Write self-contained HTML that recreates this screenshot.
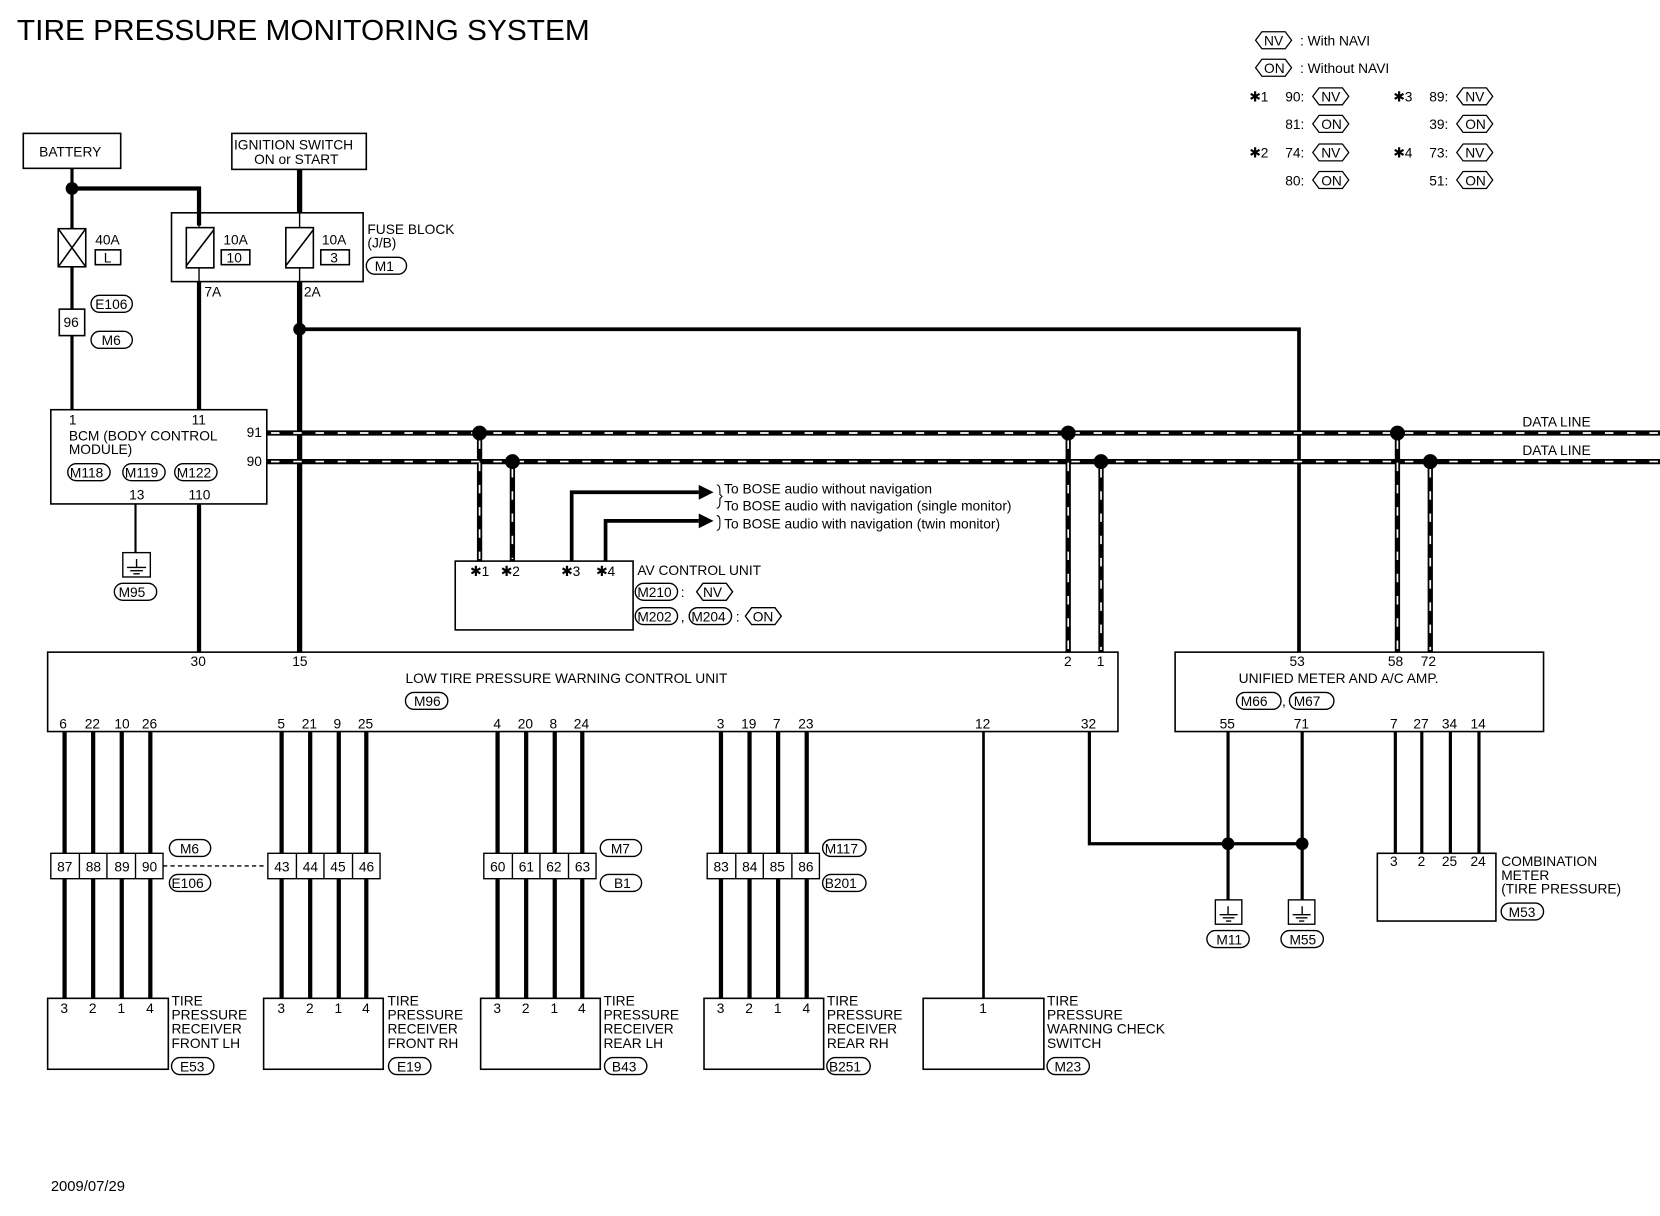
<!DOCTYPE html>
<html><head><meta charset="utf-8"><style>
html,body{margin:0;padding:0;background:#fff}
svg{display:block}
text{font-family:"Liberation Sans",sans-serif;fill:#000}
</style></head><body>
<svg width="1660" height="1216" viewBox="0 0 1568 1148.6" xmlns="http://www.w3.org/2000/svg">
<g font-size="13">
<text x="16" y="38" font-size="27" textLength="541" lengthAdjust="spacingAndGlyphs">TIRE PRESSURE MONITORING SYSTEM</text>

<!-- legend -->
<g stroke="#000" fill="none" stroke-width="1.2">
<path d="M1186,38 l6,-8 h22 l6,8 l-6,8 h-22z"/>
<path d="M1186,64 l6,-8 h22 l6,8 l-6,8 h-22z"/>
<path d="M1240,91 l6,-8 h22 l6,8 l-6,8 h-22z"/>
<path d="M1240,117 l6,-8 h22 l6,8 l-6,8 h-22z"/>
<path d="M1240,144 l6,-8 h22 l6,8 l-6,8 h-22z"/>
<path d="M1240,170 l6,-8 h22 l6,8 l-6,8 h-22z"/>
<path d="M1376,91 l6,-8 h22 l6,8 l-6,8 h-22z"/>
<path d="M1376,117 l6,-8 h22 l6,8 l-6,8 h-22z"/>
<path d="M1376,144 l6,-8 h22 l6,8 l-6,8 h-22z"/>
<path d="M1376,170 l6,-8 h22 l6,8 l-6,8 h-22z"/>
</g>
<text x="1194" y="43">NV</text><text x="1228" y="43">: With NAVI</text>
<text x="1194" y="69">ON</text><text x="1228" y="69">: Without NAVI</text>
<text x="1180" y="96">✱1</text><text x="1214" y="96">90:</text><text x="1248" y="96">NV</text>
<text x="1214" y="122">81:</text><text x="1248" y="122">ON</text>
<text x="1180" y="149">✱2</text><text x="1214" y="149">74:</text><text x="1248" y="149">NV</text>
<text x="1214" y="175">80:</text><text x="1248" y="175">ON</text>
<text x="1316" y="96">✱3</text><text x="1350" y="96">89:</text><text x="1384" y="96">NV</text>
<text x="1350" y="122">39:</text><text x="1384" y="122">ON</text>
<text x="1316" y="149">✱4</text><text x="1350" y="149">73:</text><text x="1384" y="149">NV</text>
<text x="1350" y="175">51:</text><text x="1384" y="175">ON</text>

<!-- top boxes -->
<g stroke="#000" fill="none" stroke-width="1.5">
<rect x="22" y="126" width="92" height="33"/>
<rect x="219" y="126" width="127" height="34"/>
<rect x="162" y="201" width="181" height="65"/>
<rect x="55" y="216" width="26" height="36"/>
<path d="M55,216 L81,252 M81,216 L55,252"/>
<rect x="90" y="236" width="24" height="14"/>
<rect x="176" y="215" width="26" height="38"/>
<path d="M176,251 L202,217"/>
<rect x="209" y="236" width="27" height="14"/>
<rect x="270" y="215" width="26" height="38"/>
<path d="M270,251 L296,217"/>
<rect x="303" y="236" width="27" height="14"/>
<rect x="56" y="292" width="24" height="25"/>
<rect x="48" y="387" width="204" height="89"/>
<rect x="430" y="530" width="168" height="65"/>
<rect x="45" y="616" width="1011" height="75"/>
<rect x="1110" y="616" width="348" height="75"/>
<rect x="1301" y="806" width="112" height="64"/>
<rect x="45" y="943" width="114" height="67"/>
<rect x="249" y="943" width="113" height="67"/>
<rect x="454" y="943" width="113" height="67"/>
<rect x="665" y="943" width="113" height="67"/>
<rect x="872" y="943" width="114" height="67"/>
</g>
<text x="37" y="148">BATTERY</text>
<text x="221" y="141">IGNITION SWITCH</text>
<text x="240" y="155">ON or START</text>
<text x="90" y="231">40A</text><text x="98" y="248">L</text>
<text x="211" y="231">10A</text><text x="214" y="248">10</text>
<text x="304" y="231">10A</text><text x="312" y="248">3</text>
<text x="347" y="221">FUSE BLOCK</text><text x="347" y="234">(J/B)</text>
<text x="193" y="280">7A</text><text x="287" y="280">2A</text>
<text x="60" y="309">96</text>

<!-- pills -->
<g stroke="#000" fill="none" stroke-width="1.3">
<rect x="346" y="243" width="38" height="16" rx="8"/>
<rect x="86" y="279" width="39" height="16" rx="8"/>
<rect x="86" y="313" width="39" height="16" rx="8"/>
<rect x="64" y="438" width="40" height="16" rx="8"/>
<rect x="116" y="438" width="40" height="16" rx="8"/>
<rect x="165" y="438" width="40" height="16" rx="8"/>
<rect x="108" y="551" width="40" height="16" rx="8"/>
<rect x="600" y="551" width="40" height="16" rx="8"/>
<rect x="600" y="574" width="40" height="16" rx="8"/>
<rect x="651" y="574" width="40" height="16" rx="8"/>
<rect x="383" y="654" width="40" height="16" rx="8"/>
<rect x="1168" y="654" width="42" height="16" rx="8"/>
<rect x="1218" y="654" width="42" height="16" rx="8"/>
<rect x="160" y="793" width="39" height="16" rx="8"/>
<rect x="160" y="826" width="39" height="16" rx="8"/>
<rect x="567" y="793" width="39" height="16" rx="8"/>
<rect x="567" y="826" width="39" height="16" rx="8"/>
<rect x="777" y="793" width="41" height="16" rx="8"/>
<rect x="777" y="826" width="41" height="16" rx="8"/>
<rect x="1140" y="879" width="40" height="16" rx="8"/>
<rect x="1210" y="879" width="40" height="16" rx="8"/>
<rect x="1418" y="853" width="40" height="16" rx="8"/>
<rect x="162" y="999" width="40" height="16" rx="8"/>
<rect x="367" y="999" width="40" height="16" rx="8"/>
<rect x="571" y="999" width="40" height="16" rx="8"/>
<rect x="781" y="999" width="41" height="16" rx="8"/>
<rect x="989" y="999" width="40" height="16" rx="8"/>
<path d="M658,559 l6,-8 h22 l6,8 l-6,8 h-22z"/>
<path d="M704,582 l6,-8 h22 l6,8 l-6,8 h-22z"/>
</g>
<text x="354" y="256">M1</text>
<text x="90" y="292">E106</text><text x="96" y="326">M6</text>
<text x="66" y="451">M118</text><text x="118" y="451">M119</text><text x="167" y="451">M122</text>
<text x="112" y="564">M95</text>
<text x="602" y="564">M210</text><text x="643" y="564">:</text><text x="664" y="564">NV</text>
<text x="602" y="587">M202</text><text x="643" y="587">,</text><text x="653" y="587">M204</text><text x="695" y="587">:</text><text x="711" y="587">ON</text>
<text x="391" y="667">M96</text>
<text x="1172" y="667">M66</text><text x="1211" y="667">,</text><text x="1222" y="667">M67</text>
<text x="170" y="806">M6</text><text x="162" y="839">E106</text>
<text x="577" y="806">M7</text><text x="580" y="839">B1</text>
<text x="779" y="806">M117</text><text x="779" y="839">B201</text>
<text x="1149" y="892">M11</text><text x="1218" y="892">M55</text>
<text x="1425" y="866">M53</text>
<text x="170" y="1012">E53</text><text x="375" y="1012">E19</text><text x="578" y="1012">B43</text>
<text x="783" y="1012">B251</text><text x="996" y="1012">M23</text>

<!-- BCM text -->
<text x="65" y="401">1</text><text x="181" y="401">11</text>
<text x="65" y="416">BCM (BODY CONTROL</text><text x="65" y="429">MODULE)</text>
<text x="233" y="413">91</text><text x="233" y="440">90</text>
<text x="122" y="472">13</text><text x="178" y="472">110</text>

<!-- wires -->
<g stroke="#000" fill="none">
<path stroke-width="3" d="M68,159 V216 M68,252 V292 M68,317 V387"/>
<path stroke-width="4" d="M68,178 H188 V213"/>
<path stroke-width="1.3" d="M188,213 V215 M188,253 V266"/>
<path stroke-width="4" d="M188,266 V387 M188,476 V616"/>
<path stroke-width="5" d="M283,160 V201"/>
<path stroke-width="1.3" d="M283,201 V215 M283,253 V266"/>
<path stroke-width="5" d="M283,266 V616"/>
<path stroke-width="3.5" d="M283,311 H1227 V616"/>
<path stroke-width="2" d="M128,476 V522"/>
<path stroke-width="3.5" d="M540,530 V465 H660 M572,530 V492 H660"/>
<path stroke-width="4" d="M61,691 V943 M88,691 V943 M115,691 V943 M142,691 V943 M266,691 V943 M293,691 V943 M320,691 V943 M346,691 V943 M470,691 V943 M497,691 V943 M524,691 V943 M550,691 V943 M681,691 V943 M708,691 V943 M735,691 V943 M762,691 V943"/>
<path stroke-width="2.5" d="M929,691 V943"/>
<path stroke-width="3" d="M1029,691 V797 H1230 M1160,691 V850 M1230,691 V850"/>
<path stroke-width="3" d="M1318,691 V806 M1343,691 V806 M1370,691 V806 M1397,691 V806"/>
<path stroke-width="1.3" stroke-dasharray="4,3" d="M154,818 H249"/>
</g>
<path d="M660,458 L674,465 L660,472Z M660,485 L674,492 L660,499Z"/>
<path d="M677,458 q3,0 3,5 v4 l2,2 l-2,2 v4 q0,5 -3,5" stroke="#000" fill="none"/>
<path d="M677,487 q3,0 3,5 v4 q0,5 -3,5" stroke="#000" fill="none"/>
<text x="684" y="466">To BOSE audio without navigation</text>
<text x="684" y="482">To BOSE audio with navigation (single monitor)</text>
<text x="684" y="499">To BOSE audio with navigation (twin monitor)</text>

<!-- data lines -->
<g fill="none">
<path stroke="#000" stroke-width="5" d="M252,409 H1568 M252,436 H1568 M453,409 V530 M484,436 V530 M1009,409 V616 M1040,436 V616 M1320,409 V616 M1351,436 V616"/>
<path stroke="#fff" stroke-width="1.6" stroke-dasharray="8,13" d="M256,409 H1568 M256,436 H1568 M453,416 V528 M484,443 V528 M1009,416 V614 M1040,443 V614 M1320,416 V614 M1351,443 V614"/>
</g>
<g>
<circle cx="68" cy="178" r="6"/><circle cx="283" cy="311" r="6"/>
<circle cx="453" cy="409" r="7"/><circle cx="484" cy="436" r="7"/>
<circle cx="1009" cy="409" r="7"/><circle cx="1040" cy="436" r="7"/>
<circle cx="1320" cy="409" r="7"/><circle cx="1351" cy="436" r="7"/>
<circle cx="1160" cy="797" r="6"/><circle cx="1230" cy="797" r="6"/>
</g>
<text x="1438" y="403">DATA LINE</text><text x="1438" y="430">DATA LINE</text>

<!-- grounds -->
<g stroke="#000" fill="none" stroke-width="1.3">
<rect x="116" y="522" width="26" height="23"/>
<path d="M120,536 H138 M123,539 H135 M126,542 H132 M129,528 V536"/>
<rect x="1148" y="850" width="25" height="23"/>
<path d="M1152,864 H1169 M1155,867 H1166 M1158,870 H1163 M1160,856 V864"/>
<rect x="1217" y="850" width="25" height="23"/>
<path d="M1221,864 H1238 M1224,867 H1235 M1227,870 H1232 M1230,856 V864"/>
</g>

<!-- AV -->
<text x="444" y="544">✱1</text><text x="473" y="544">✱2</text><text x="530" y="544">✱3</text><text x="563" y="544">✱4</text>
<text x="602" y="543">AV CONTROL UNIT</text>

<!-- LTPW -->
<text x="180" y="629">30</text><text x="276" y="629">15</text><text x="1005" y="629">2</text><text x="1036" y="629">1</text>
<text x="383" y="645">LOW TIRE PRESSURE WARNING CONTROL UNIT</text>
<text x="56" y="688">6</text><text x="80" y="688">22</text><text x="108" y="688">10</text><text x="134" y="688">26</text>
<text x="262" y="688">5</text><text x="285" y="688">21</text><text x="315" y="688">9</text><text x="338" y="688">25</text>
<text x="466" y="688">4</text><text x="489" y="688">20</text><text x="519" y="688">8</text><text x="542" y="688">24</text>
<text x="677" y="688">3</text><text x="700" y="688">19</text><text x="730" y="688">7</text><text x="754" y="688">23</text>
<text x="921" y="688">12</text><text x="1021" y="688">32</text>

<!-- unified -->
<text x="1218" y="629">53</text><text x="1311" y="629">58</text><text x="1342" y="629">72</text>
<text x="1170" y="645">UNIFIED METER AND A/C AMP.</text>
<text x="1152" y="688">55</text><text x="1222" y="688">71</text>
<text x="1313" y="688">7</text><text x="1335" y="688">27</text><text x="1362" y="688">34</text><text x="1389" y="688">14</text>
<text x="1313" y="818">3</text><text x="1339" y="818">2</text><text x="1362" y="818">25</text><text x="1389" y="818">24</text>
<text x="1418" y="818">COMBINATION</text><text x="1418" y="831">METER</text><text x="1418" y="844">(TIRE PRESSURE)</text>

<!-- connector rows -->
<g stroke="#000" fill="#fff" stroke-width="1.3">
<rect x="48" y="806" width="106" height="24"/>
<rect x="253" y="806" width="106" height="24"/>
<rect x="457" y="806" width="106" height="24"/>
<rect x="668" y="806" width="106" height="24"/>
<path fill="none" d="M75,806 V830 M101,806 V830 M128,806 V830 M280,806 V830 M306,806 V830 M333,806 V830 M484,806 V830 M510,806 V830 M537,806 V830 M695,806 V830 M721,806 V830 M748,806 V830"/>
</g>
<text x="54" y="823">87</text><text x="81" y="823">88</text><text x="108" y="823">89</text><text x="134" y="823">90</text>
<text x="259" y="823">43</text><text x="286" y="823">44</text><text x="312" y="823">45</text><text x="339" y="823">46</text>
<text x="463" y="823">60</text><text x="490" y="823">61</text><text x="516" y="823">62</text><text x="543" y="823">63</text>
<text x="674" y="823">83</text><text x="701" y="823">84</text><text x="727" y="823">85</text><text x="754" y="823">86</text>

<!-- receivers -->
<g>
<text x="57" y="957">3</text><text x="84" y="957">2</text><text x="111" y="957">1</text><text x="138" y="957">4</text>
<text x="262" y="957">3</text><text x="289" y="957">2</text><text x="316" y="957">1</text><text x="342" y="957">4</text>
<text x="466" y="957">3</text><text x="493" y="957">2</text><text x="520" y="957">1</text><text x="546" y="957">4</text>
<text x="677" y="957">3</text><text x="704" y="957">2</text><text x="731" y="957">1</text><text x="758" y="957">4</text>
<text x="925" y="957">1</text>
</g>
<text x="162" y="950">TIRE</text><text x="162" y="963">PRESSURE</text><text x="162" y="976">RECEIVER</text><text x="162" y="990">FRONT LH</text>
<text x="366" y="950">TIRE</text><text x="366" y="963">PRESSURE</text><text x="366" y="976">RECEIVER</text><text x="366" y="990">FRONT RH</text>
<text x="570" y="950">TIRE</text><text x="570" y="963">PRESSURE</text><text x="570" y="976">RECEIVER</text><text x="570" y="990">REAR LH</text>
<text x="781" y="950">TIRE</text><text x="781" y="963">PRESSURE</text><text x="781" y="976">RECEIVER</text><text x="781" y="990">REAR RH</text>
<text x="989" y="950">TIRE</text><text x="989" y="963">PRESSURE</text><text x="989" y="976">WARNING CHECK</text><text x="989" y="990">SWITCH</text>

<text x="48" y="1125" font-size="14">2009/07/29</text>
</g>
</svg>
</body></html>
